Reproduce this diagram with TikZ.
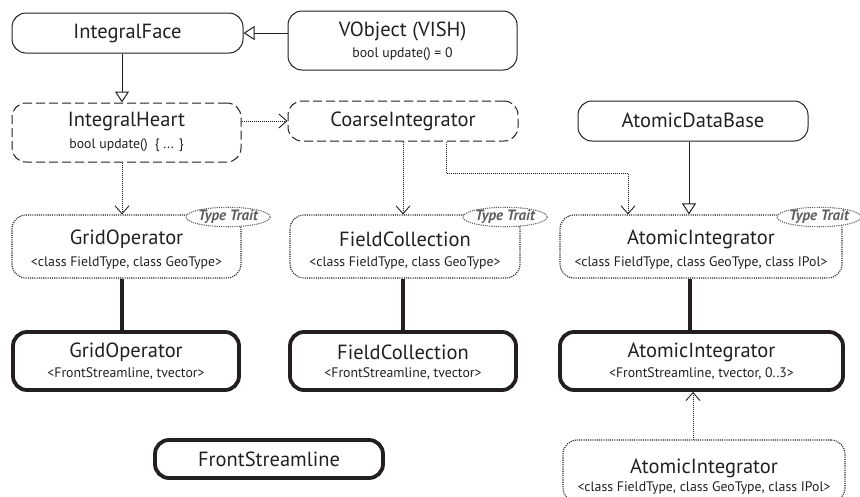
\documentclass[tikz,border=0pt]{standalone}
\usepackage{fontspec}
\setmainfont{PT Sans}
\usetikzlibrary{arrows.meta,shapes.geometric,calc}
\definecolor{ink}{RGB}{35,31,32}
\definecolor{traitgray}{RGB}{95,95,95}

\begin{document}
\begin{tikzpicture}[x=1pt,y=-1pt,
  base/.style={rectangle, rounded corners=14pt, inner sep=0pt, draw=ink},
  plainbox/.style={base, line width=1pt},
  dashbox/.style={base, line width=1pt, dash pattern=on 9pt off 4pt},
  dotbox/.style={base, line width=1.1pt, dash pattern=on 1.1pt off 1.1pt},
  thickbox/.style={base, line width=3.8pt},
  title/.style={font=\fontsize{20.5}{24}\selectfont, text=ink, inner sep=0pt},
  sub/.style={font=\fontsize{13.8}{16}\selectfont, text=ink, inner sep=0pt},
  trait/.style={ellipse, draw=traitgray, fill=white, line width=1.1pt,
    dash pattern=on 1.1pt off 1.1pt, minimum width=80pt, minimum height=19pt,
    inner sep=0pt, text=traitgray, font=\fontsize{15}{16}\selectfont\bfseries\itshape},
  inherit/.style={draw=ink, line width=1pt, -{Triangle[open, length=11pt, width=14pt]}},
  dep/.style={draw=ink, line width=0.9pt, dash pattern=on 0.9pt off 1.1pt,
    -{Straight Barb[length=8pt, width=14pt]}},
  bond/.style={draw=ink, line width=3.8pt}]

\useasboundingbox (0,0) rectangle (860,496);
\clip (0,0) rectangle (860,496);

% --- boxes ---------------------------------------------------------------
\node[plainbox, minimum width=231pt, minimum height=40pt] (face)   at (127.5,33)  {};
\node[plainbox, minimum width=229pt, minimum height=59pt] (vobj)   at (402.5,40.5) {};
\node[dashbox,  minimum width=229pt, minimum height=59pt] (heart)  at (126.5,132.5) {};
\node[dashbox,  minimum width=230pt, minimum height=40pt] (coarse) at (403,121) {};
\node[plainbox, minimum width=230pt, minimum height=40pt] (adb)    at (693,121) {};

\node[dotbox, minimum width=229pt, minimum height=63pt] (goT) at (126.5,246.5) {};
\node[dotbox, minimum width=230pt, minimum height=63pt] (fcT) at (405,246.5) {};
\node[dotbox, minimum width=282pt, minimum height=63pt] (aiT) at (701,246.5) {};

\node[thickbox, minimum width=226pt, minimum height=58pt] (goC) at (126,361) {};
\node[thickbox, minimum width=226pt, minimum height=58pt] (fcC) at (403,361) {};
\node[thickbox, minimum width=283pt, minimum height=58pt] (aiC) at (701.5,361) {};

\node[thickbox, minimum width=228pt, minimum height=38pt] (fs)  at (269,459) {};
\node[dotbox,   minimum width=282pt, minimum height=62pt] (aiB) at (704,471) {};

% --- texts ---------------------------------------------------------------
\node[title] (faceT)   at (127.5,33) {IntegralFace};
\node[title] (vobjT)   at (402.5,31) {VObject (VISH)};
\node[sub]   (vobjS)   at (402.5,54) {bool update() = 0};
\node[title] (heartT)  at (126.5,121) {IntegralHeart};
\node[sub]   (heartS)  at (126.5,145) {bool update()\hspace{7pt}\{ ... \}};
\node[title] (coarseT) at (403,121) {CoarseIntegrator};
\node[title] (adbT)    at (693,120) {AtomicDataBase};

\node[title] (goTT) at (126.5,239) {GridOperator};
\node[sub]   (goTS) at (126.5,263) {<class FieldType, class GeoType>};
\node[title] (fcTT) at (405,239) {FieldCollection};
\node[sub]   (fcTS) at (405,263) {<class FieldType, class GeoType>};
\node[title] (aiTT) at (701,239) {AtomicIntegrator};
\node[sub]   (aiTS) at (701,263) {<class FieldType, class GeoType, class IPol>};

\node[title] (goCT) at (126,352) {GridOperator};
\node[sub]   (goCS) at (126,374) {<FrontStreamline, tvector>};
\node[title] (fcCT) at (403,352) {FieldCollection};
\node[sub]   (fcCS) at (403,374) {<FrontStreamline, tvector>};
\node[title] (aiCT) at (701.5,352) {AtomicIntegrator};
\node[sub]   (aiCS) at (701.5,374) {<FrontStreamline, tvector, 0..3>};

\node[title] (fsT)  at (269,459) {FrontStreamline};
\node[title] (aiBT) at (704,468) {AtomicIntegrator};
\node[sub]   (aiBS) at (704,488) {<class FieldType, class GeoType, class IPol>};

% --- type trait tags -----------------------------------------------------
\node[trait] (goTag) at (228,217) {Type Trait};
\node[trait] (fcTag) at (505,217) {Type Trait};
\node[trait] (aiTag) at (819,217) {Type Trait};

% --- connectors ----------------------------------------------------------
\coordinate (bend) at (628,173);

\draw[inherit] (face.east -| vobj.west) -- (face.east);
\draw[inherit] ([xshift=-5.5pt]face.south) -- ([xshift=-5.5pt]face.south |- heart.north);
\draw[inherit] ([xshift=-4pt]adb.south) -- ([xshift=-4pt]adb.south |- aiT.north);

\draw[dep] (heart.east |- coarse.west) -- (coarse.west);
\draw[dep] ([xshift=-4.5pt]heart.south) -- ([xshift=-4.5pt]heart.south |- goT.north);
\draw[dep] (coarse.south) -- (coarse.south |- fcT.north);
\draw[dep] ([xshift=43pt]coarse.south) |- (bend) -- (bend |- aiT.north);
\draw[dep] ([xshift=-11pt]aiB.north) -- ([xshift=-11pt]aiB.north |- aiC.south);

\draw[bond] ([xshift=-4.5pt]goT.south) -- ([xshift=-4.5pt]goT.south |- goC.north);
\draw[bond] ([xshift=-2pt]fcT.south) -- ([xshift=-2pt]fcT.south |- fcC.north);
\draw[bond] ([xshift=-11pt]aiT.south) -- ([xshift=-11pt]aiT.south |- aiC.north);
\end{tikzpicture}
\end{document}
